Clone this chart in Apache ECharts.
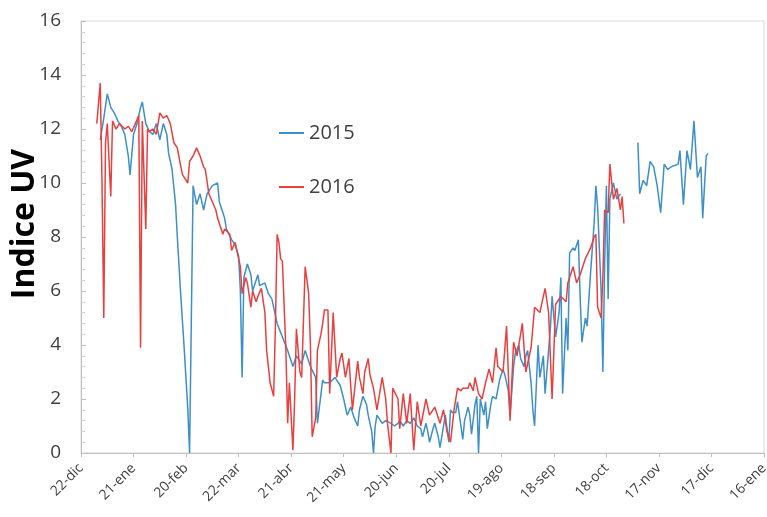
<!DOCTYPE html>
<html>
<head>
<meta charset="utf-8">
<script src="https://cdn.jsdelivr.net/npm/echarts@6/dist/echarts.min.js"></script>
<style>
  html, body { margin: 0; padding: 0; background: #fff; }
  #chart { width: 767px; height: 517px; }
</style>
</head>
<body>
<div id="chart"></div>
<script>
// eje x: dias desde 22-dic
var tickLabels = ['22-dic', '21-ene', '20-feb', '22-mar', '21-abr', '21-may', '20-jun',
  '20-jul', '19-ago', '18-sep', '18-oct', '17-nov', '17-dic', '16-ene']

var days2015 = [11, 13, 15, 17, 19, 21, 23, 25, 27, 28, 30, 32, 34, 35, 37, 39, 41, 43, 45, 47,
  49, 50, 52, 54, 55, 57, 59, 61, 62, 64, 66, 68, 70, 72, 75, 78, 79, 82, 83, 86,
  88, 90, 91, 92, 93, 95, 97, 98, 101, 102, 105, 107, 109, 112, 115, 118, 121, 123, 126, 128,
  131, 134, 135, 138, 139, 142, 145, 146, 148, 150, 152, 154, 156, 158, 159, 161, 163, 164, 166, 167,
  168, 169, 171, 172, 174, 177, 179, 181, 182, 184, 186, 188, 190, 192, 194, 195, 197, 198, 199, 201,
  202, 204, 205, 207, 208, 210, 211, 212, 214, 215, 218, 219, 221, 222, 223, 225, 226, 227, 228, 230,
  231, 232, 234, 235, 237, 239, 241, 242, 244, 245, 247, 248, 250, 251, 253, 254, 255, 257, 258, 259,
  261, 262, 264, 265, 267, 268, 269, 271, 273, 274, 275, 277, 278, 279, 281, 282, 284, 285, 286, 288,
  289, 291, 293, 294, 295, 297, 298, 299, 300, 301, 302, 304, 306, 308, 313,
  318, 319, 321, 323, 325, 327, 329, 331, 333, 335, 337, 338, 341, 342, 344, 346, 348, 350, 352, 354,
  355, 357, 358]
var uv2015 = [11.6, 12.4, 13.3, 12.8, 12.6, 12.3, 12.1, 11.8, 11.0, 10.3, 11.8, 12.2, 12.8, 13.0, 12.2, 11.9, 11.8, 12.2, 11.6, 12.2,
  11.8, 11.1, 10.5, 9.2, 8.0, 5.8, 3.8, 1.6, 0.0, 9.9, 9.2, 9.6, 9.0, 9.6, 9.9, 10.0, 9.3, 8.7, 8.3, 7.9,
  7.7, 7.3, 6.0, 2.8, 6.5, 7.0, 6.6, 6.0, 6.6, 6.2, 6.3, 5.9, 5.7, 4.8, 4.3, 3.8, 3.2, 3.6, 3.3, 3.8,
  3.2, 2.8, 1.1, 2.7, 2.6, 2.6, 2.8, 2.7, 2.5, 2.0, 1.4, 1.7, 1.3, 1.0, 1.6, 2.1, 1.8, 1.4, 0.8, 0.0,
  1.0, 1.4, 1.2, 1.1, 1.2, 1.1, 1.0, 1.1, 1.2, 1.0, 1.2, 1.1, 1.3, 1.0, 0.9, 0.6, 1.1, 0.8, 0.4, 0.9,
  1.1, 0.6, 0.2, 1.0, 1.4, 0.4, 1.6, 1.5, 1.5, 1.9, 0.5, 1.2, 1.7, 1.4, 0.7, 1.8, 2.1, 0.0, 2.0, 1.4,
  1.9, 0.9, 1.8, 2.1, 2.0, 2.7, 3.1, 2.9, 2.3, 1.4, 3.2, 3.7, 4.0, 3.5, 3.2, 3.6, 3.8, 2.6, 1.6, 1.0,
  4.0, 2.8, 3.6, 2.2, 3.8, 4.6, 5.8, 4.3, 5.2, 6.5, 2.2, 5.0, 3.8, 7.4, 7.6, 7.5, 7.9, 5.8, 4.1, 5.0,
  4.7, 6.7, 8.5, 9.9, 9.1, 6.0, 3.0, 7.0, 9.9, 5.7, 9.4, 10.0, 9.4, 9.6, null,
  11.5, 9.6, 10.1, 9.9, 10.8, 10.6, 9.9, 8.9, 10.7, 10.5, 10.6, 10.6, 10.7, 11.2, 9.2, 11.2, 10.5, 12.3, 10.2, 10.6,
  8.7, 11.0, 11.1]

var days2016 = [9, 11, 12, 13, 14, 15, 17, 18, 20, 22, 25, 27, 29, 31, 33, 34, 35, 37, 38, 39,
  41, 43, 45, 47, 49, 51, 53, 55, 57, 58, 61, 62, 64, 66, 68, 70, 71, 73, 74, 77,
  78, 81, 82, 85, 86, 88, 89, 91, 92, 94, 95, 97, 98, 100, 101, 103, 105, 106, 108, 110,
  111, 112, 113, 114, 115, 117, 118, 119, 121, 122, 123, 125, 126, 128, 130, 131, 132, 134, 135, 137,
  138, 139, 141, 142, 144, 146, 148, 149, 151, 153, 154, 155, 158, 159, 161, 162, 164, 165, 167, 169,
  172, 174, 175, 177, 178, 181, 182, 184, 186, 188, 190, 192, 194, 197, 199, 202, 205, 207, 209, 211,
  213, 215, 217, 218, 221, 222, 224, 225, 227, 229, 231, 233, 235, 237, 238, 241, 243, 245, 247, 249,
  252, 254, 257, 259, 262, 265, 267, 269, 271, 274, 277, 278, 279, 281, 283, 285, 288, 291, 293, 294,
  295, 297, 298, 299, 301, 302, 304, 306, 308, 309, 310]
var uv2016 = [12.2, 13.7, 10.0, 5.0, 11.5, 12.2, 9.5, 12.3, 12.0, 12.2, 12.0, 12.1, 11.9, 12.2, 12.5, 3.9, 12.3, 8.3, 12.0, 11.9,
  12.0, 11.8, 12.6, 12.4, 12.5, 12.2, 11.5, 11.3, 10.6, 10.3, 10.0, 10.8, 11.0, 11.3, 11.0, 10.6, 10.5, 9.6, 9.6, 9.0,
  8.7, 8.1, 8.3, 8.1, 7.5, 7.8, 7.8, 6.9, 5.9, 6.5, 6.3, 5.4, 6.0, 5.6, 5.8, 6.1, 5.2, 3.8, 2.6, 2.1,
  4.7, 8.1, 7.8, 7.2, 7.1, 3.8, 1.1, 2.6, 0.1, 2.0, 4.6, 3.0, 2.8, 6.9, 5.9, 4.0, 0.6, 1.3, 3.8, 4.4,
  4.8, 5.3, 5.3, 2.2, 5.2, 2.8, 3.5, 3.7, 2.8, 3.5, 2.5, 1.6, 3.4, 2.8, 2.2, 3.0, 3.5, 2.9, 2.4, 1.6,
  2.8, 2.0, 1.1, 0.0, 2.4, 2.0, 0.9, 2.2, 1.1, 2.2, 0.1, 1.9, 1.0, 2.0, 1.4, 1.7, 1.1, 1.6, 0.8, 0.4,
  1.6, 2.4, 2.3, 2.4, 2.4, 2.6, 2.3, 2.8, 2.2, 2.0, 2.6, 3.1, 2.6, 3.9, 3.2, 3.0, 4.7, 1.2, 4.1, 3.6,
  4.8, 3.0, 3.9, 5.4, 5.2, 6.1, 5.2, 2.0, 5.5, 5.8, 5.6, 6.3, 6.5, 6.9, 6.3, 6.6, 7.2, 7.6, 8.0, 8.1,
  5.4, 5.0, 6.5, 9.0, 8.9, 10.7, 9.4, 9.8, 9.0, 9.5, 8.5]

function toPairs(days, vals) {
  return days.map(function(d, i) {
    return [d, vals[i] === null ? '-' : vals[i]]
  })
}

var chart = echarts.init(document.getElementById('chart'))
var axisColor = '#bfbfbf'
var labelColor = '#404040'

chart.setOption({
  animation: false,
  grid: {
    left: 81,
    right: 3,
    top: 21,
    bottom: 64,
    outerBoundsMode: 'none',
    containLabel: false,
    show: true,
    borderColor: '#d9d9d9',
    borderWidth: 1
  },
  legend: {
    orient: 'vertical',
    left: 274,
    top: 118,
    itemGap: 34,
    itemWidth: 25,
    itemHeight: 2,
    icon: 'rect',
    data: ['2015', '2016'],
    textStyle: {
      fontFamily: 'Open Sans',
      fontSize: 20,
      color: labelColor
    }
  },
  xAxis: {
    type: 'value',
    min: 0,
    max: 390,
    interval: 30,
    splitLine: { show: false },
    axisLine: { lineStyle: { color: axisColor } },
    axisTick: { show: true, length: 4, lineStyle: { color: axisColor } },
    axisLabel: {
      rotate: 45,
      margin: 13,
      fontFamily: 'Open Sans',
      fontSize: 14,
      color: labelColor,
      showMinLabel: true,
      showMaxLabel: true,
      formatter: function(v) {
        return tickLabels[Math.round(v / 30)] || ''
      }
    }
  },
  yAxis: {
    type: 'value',
    min: 0,
    max: 16,
    interval: 2,
    name: 'Indice UV',
    nameLocation: 'middle',
    nameGap: 40,
    nameMoveOverlap: false,
    nameTextStyle: {
      fontFamily: 'Open Sans',
      fontSize: 32,
      fontWeight: 'bold',
      color: '#000',
      padding: [0, 0, 0, 26]
    },
    splitLine: { show: false },
    axisLine: { show: true, lineStyle: { color: axisColor } },
    axisTick: { show: true, inside: true, length: 5, lineStyle: { color: axisColor } },
    minorTick: { show: true, splitNumber: 5, length: 4, lineStyle: { color: '#d0d0d0' } },
    axisLabel: {
      margin: 20,
      fontFamily: 'Open Sans',
      fontSize: 19,
      color: labelColor
    }
  },
  series: [
    {
      name: '2015',
      type: 'line',
      showSymbol: false,
      connectNulls: false,
      data: toPairs(days2015, uv2015),
      itemStyle: { color: '#3d8fc8' },
      lineStyle: { color: '#3d8fc8', width: 1.5 }
    },
    {
      name: '2016',
      type: 'line',
      showSymbol: false,
      data: toPairs(days2016, uv2016),
      itemStyle: { color: '#e8403f' },
      lineStyle: { color: '#e8403f', width: 1.5 }
    }
  ]
})
</script>
</body>
</html>
